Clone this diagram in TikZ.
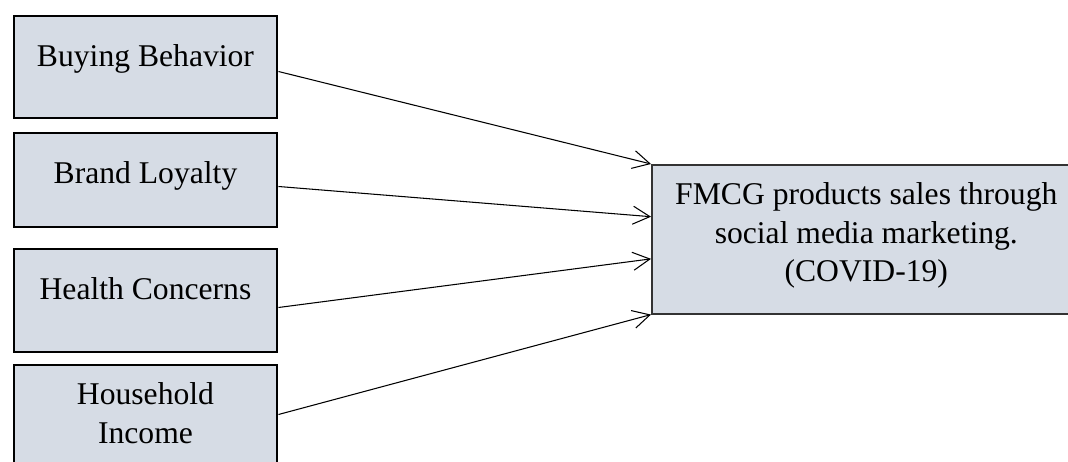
\documentclass[tikz,border=0pt]{standalone}
\usepackage{fontspec}
\setmainfont{Liberation Serif}
\usetikzlibrary{arrows.meta,calc}
\definecolor{boxfill}{HTML}{D6DCE5}
\begin{document}
\begin{tikzpicture}
  [x=0.2mm,y=-0.2mm,every node/.style={font=\fontsize{18}{22}\selectfont,align=center,inner sep=0pt}]
  \tikzstyle{factor} = [draw=black,line width=1.7pt,fill=boxfill,minimum width=52.6mm,anchor=north west]
  \tikzstyle{outcome} = [draw=black!80,line width=0.9pt,fill=boxfill,minimum width=85.8mm,anchor=north west]
  \tikzstyle{link} = [line width=0.6pt,-{Straight Barb[length=3.4mm,width=3.6mm]}]
  \useasboundingbox (0,0) rectangle (1068,461);
  \node[factor,minimum height=20.4mm,text height=10.1mm,text depth=10.3mm] (buying) at (12.5,14.5) {Buying Behavior};
  \node[factor,minimum height=18.8mm,text height=10.1mm,text depth=8.7mm] (loyalty) at (12.5,131.5) {Brand Loyalty};
  \node[factor,minimum height=20.6mm,text height=10.1mm,text depth=10.5mm] (health) at (12.5,247.5) {Health Concerns};
  \node[factor,minimum height=21.7mm,text height=15.7mm,text depth=6mm] (income) at (12.5,363.5) {Household\\Income};
  \node[outcome,minimum height=29.8mm,text height=23.4mm,text depth=6.4mm] (sales) at (651,164) {FMCG products sales through\\social media marketing.\\(COVID-19)};
  \foreach \source /\shift /\pos in {buying/-0.9mm/0,loyalty/-1.3mm/0.35,health/-1.4mm/0.63,income/0.95mm/1}
   \draw[link] ([yshift=\shift]\source.east) -- ($(sales.north west)!\pos!(sales.south west)$);
\end{tikzpicture}
\end{document}
